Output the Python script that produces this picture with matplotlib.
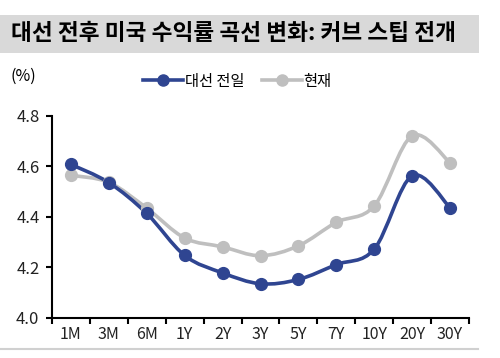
import numpy as np
import matplotlib.pyplot as plt
from matplotlib.path import Path
from matplotlib.patches import PathPatch, Rectangle
from matplotlib.lines import Line2D

plt.rcParams['font.family'] = ['Noto Sans CJK KR', 'DejaVu Sans']

# 만기별 수익률 (%)
tenors = ['1M', '3M', '6M', '1Y', '2Y', '3Y', '5Y', '7Y', '10Y', '20Y', '30Y']
before_election = [4.607, 4.535, 4.413, 4.247, 4.178, 4.135, 4.152, 4.211, 4.272, 4.562, 4.436]
current = [4.564, 4.536, 4.434, 4.316, 4.281, 4.246, 4.285, 4.378, 4.443, 4.720, 4.614]
series_names = ['대선 전일', '현재']
yticks = [4.0, 4.2, 4.4, 4.6, 4.8]

BLUE = '#2f4591'
GRAY = '#bfbfbf'


def smooth_path(x, y, t=1 / 6.0):
    # 엑셀 스타일 부드러운 선: Catmull-Rom -> 베지어 제어점
    x = np.asarray(x, float)
    y = np.asarray(y, float)
    verts = [(x[0], y[0])]
    codes = [Path.MOVETO]
    n = len(x)
    for i in range(n - 1):
        x0, y0 = (x[i - 1], y[i - 1]) if i > 0 else (x[i], y[i])
        x3, y3 = (x[i + 2], y[i + 2]) if i + 2 < n else (x[i + 1], y[i + 1])
        c1 = (x[i] + (x[i + 1] - x0) * t, y[i] + (y[i + 1] - y0) * t)
        c2 = (x[i + 1] - (x3 - x[i]) * t, y[i + 1] - (y3 - y[i]) * t)
        verts += [c1, c2, (x[i + 1], y[i + 1])]
        codes += [Path.CURVE4] * 3
    return Path(verts, codes)


fig = plt.figure(figsize=(5.0, 3.58), dpi=100)
ax = fig.add_axes([0.104, 0.112, 0.834, 0.565])

xs = np.arange(len(tenors))
for vals, color, name in [(current, GRAY, series_names[1]), (before_election, BLUE, series_names[0])]:
    ax.add_patch(PathPatch(smooth_path(xs, vals), facecolor='none', edgecolor=color,
                           lw=2.6, capstyle='round', joinstyle='round'))
    ax.plot(xs, vals, ls='none', marker='o', ms=8.5, color=color)

ax.set_xlim(-0.5, len(tenors) - 0.5)
ax.set_ylim(4.0, 4.8)
ax.set_yticks(yticks)
ax.set_yticklabels(['%.1f' % v for v in yticks], fontsize=12, color='#222222')
ax.set_xticks(xs)
ax.set_xticklabels(tenors, fontsize=11.5, color='#222222')
ax.set_xticks(np.arange(-0.5, len(tenors), 1.0), minor=True)
ax.tick_params(axis='x', which='major', length=0, pad=6)
ax.tick_params(axis='x', which='minor', length=4, width=1.5, direction='out')
ax.tick_params(axis='y', length=4, width=1.5, direction='out', pad=5)
for s in ['top', 'right']:
    ax.spines[s].set_visible(False)
for s in ['left', 'bottom']:
    ax.spines[s].set_linewidth(1.5)
    ax.spines[s].set_color('black')

# 범례
handles = [Line2D([], [], color=BLUE, lw=2.6, marker='o', ms=8),
           Line2D([], [], color=GRAY, lw=2.6, marker='o', ms=8)]
fig.legend(handles, series_names, loc='center', bbox_to_anchor=(0.475, 0.773), ncol=2,
           frameon=False, fontsize=11, handlelength=2.6, handletextpad=0.1, columnspacing=1.2)

# 제목
fig.add_artist(Rectangle((0.0, 1 - 53 / 358), 0.958, 38 / 358, transform=fig.transFigure,
                         facecolor='#d9d9d9', edgecolor='none'))
fig.text(0.022, 1 - 34 / 358, '대선 전후 미국 수익률 곡선 변화: 커브 스팁 전개', fontsize=16.3,
         fontweight='bold', va='center', ha='left')
fig.text(0.022, 1 - 76 / 358, '(%)', fontsize=11.5, va='center', ha='left')

fig.add_artist(Line2D([0.0, 0.956], [1 - 349 / 358] * 2, transform=fig.transFigure,
                      color='#d0d0d0', lw=1.5))

fig.savefig('out.png', dpi=100)
